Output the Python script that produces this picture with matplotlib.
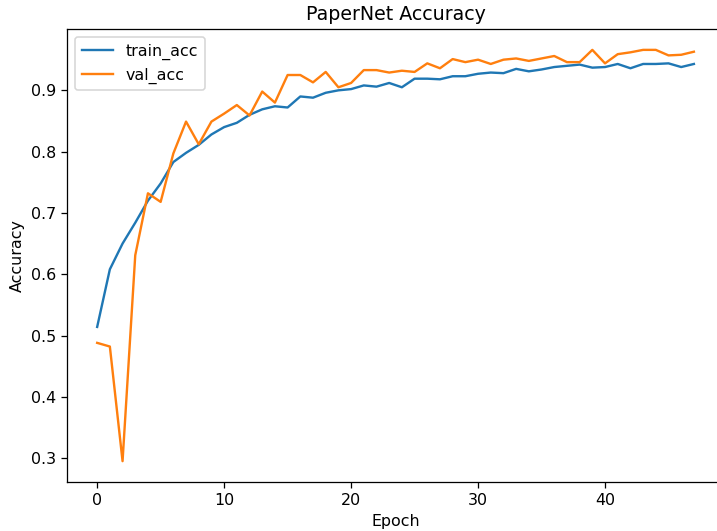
import numpy as np
import matplotlib
matplotlib.use("Agg")
import matplotlib.pyplot as plt

# accuracy per epoch
train_acc = [0.514, 0.608, 0.650, 0.684, 0.720, 0.748, 0.783, 0.798, 0.811, 0.828,
             0.840, 0.847, 0.860, 0.869, 0.874, 0.872, 0.890, 0.888, 0.896, 0.900,
             0.902, 0.908, 0.906, 0.912, 0.905, 0.919, 0.919, 0.918, 0.923, 0.923,
             0.927, 0.929, 0.928, 0.935, 0.931, 0.934, 0.938, 0.940, 0.942, 0.937,
             0.938, 0.943, 0.936, 0.943, 0.943, 0.944, 0.938, 0.943]
val_acc = [0.488, 0.482, 0.295, 0.631, 0.732, 0.718, 0.797, 0.849, 0.812, 0.849,
           0.862, 0.876, 0.859, 0.898, 0.880, 0.925, 0.925, 0.913, 0.930, 0.905,
           0.912, 0.933, 0.933, 0.929, 0.932, 0.930, 0.944, 0.936, 0.951, 0.946,
           0.950, 0.943, 0.950, 0.952, 0.948, 0.952, 0.956, 0.946, 0.946, 0.966,
           0.944, 0.959, 0.962, 0.966, 0.966, 0.957, 0.958, 0.963]

dpi = 114
fig = plt.figure(figsize=(717 / dpi, 531 / dpi), dpi=dpi)
# axes runs past the right edge, like the cropped reference
ax = fig.add_axes([0.0939, 0.0928, 0.9155, 0.852])

ax.plot(train_acc, label="train_acc")
ax.plot(val_acc, label="val_acc")
ax.set_title("PaperNet Accuracy")
ax.set_xlabel("Epoch")
ax.set_ylabel("Accuracy")
ax.legend(loc="upper left")

fig.savefig("out.png", dpi=dpi)
